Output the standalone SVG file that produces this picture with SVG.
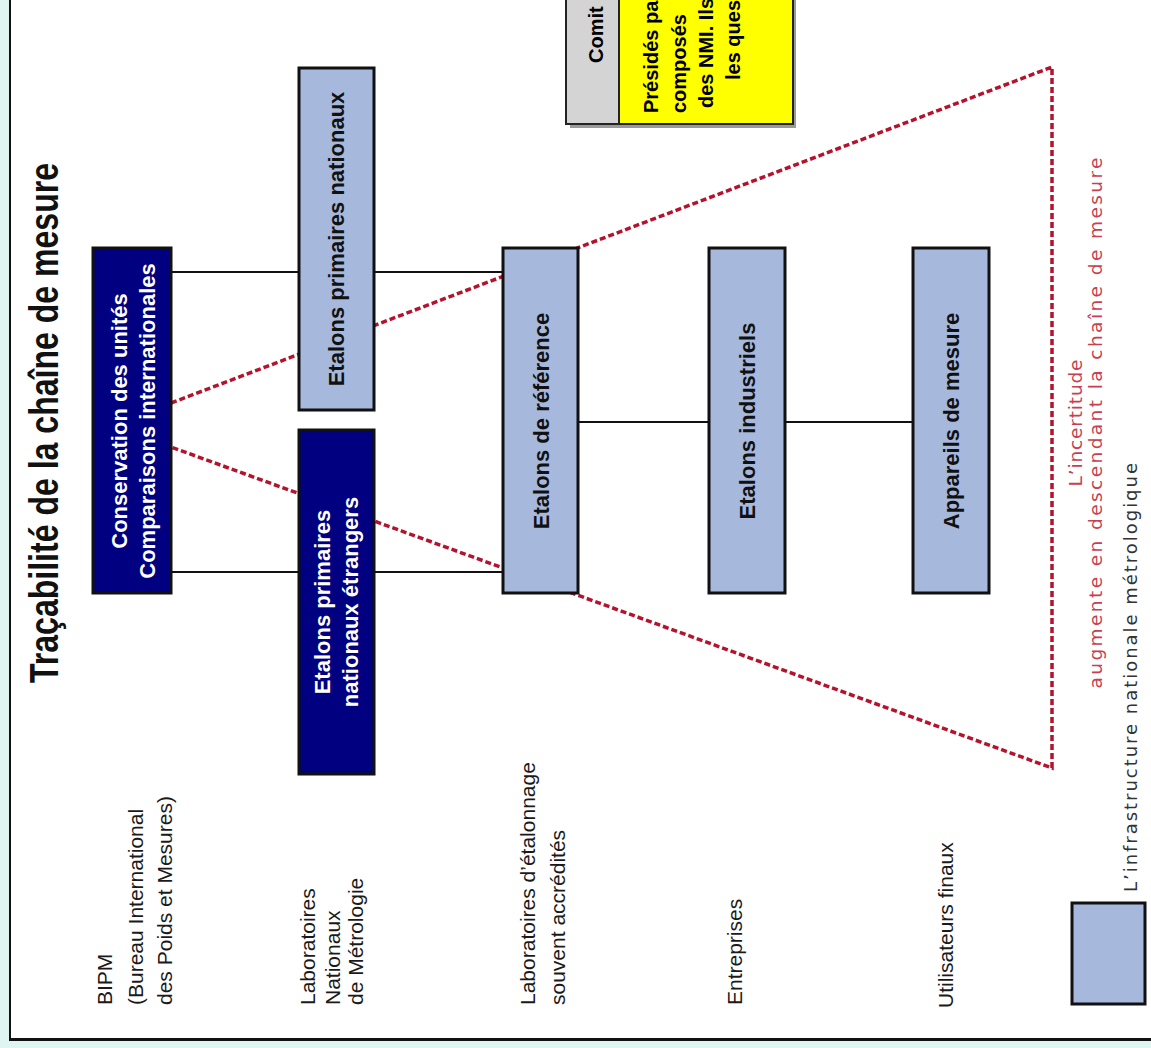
<svg xmlns="http://www.w3.org/2000/svg" width="1151" height="1048" viewBox="0 0 1151 1048">
<style>
.lb{fill:#a6b8dc;stroke:#111;stroke-width:3}
.nv{fill:#000080;stroke:#111;stroke-width:3}
.bt{font-family:"Liberation Sans",Arial,sans-serif;font-weight:bold;font-size:22px;text-anchor:middle}
.wt{fill:#fff}
.kt{fill:#111}
.lab{font-family:"Liberation Sans",Arial,sans-serif;font-size:21px;fill:#1a1a1a}
.conn{stroke:#111;stroke-width:2;fill:none}
.red{stroke:#b4132d;stroke-width:3.5;stroke-dasharray:6 3;fill:none}
.rt{font-family:"DejaVu Sans",Verdana,sans-serif;font-size:18.5px;fill:#c8404f;text-anchor:middle}
.ct{font-family:"Liberation Sans",Arial,sans-serif;font-weight:bold;font-size:20px;fill:#000}
</style>
<rect x="0" y="0" width="1151" height="1048" fill="#dff5f1"/>
<rect x="10" y="0" width="1141" height="1039" fill="#fff"/>
<line x1="10" y1="0" x2="10" y2="1040" stroke="#111" stroke-width="2"/>
<line x1="9" y1="1039.5" x2="1151" y2="1039.5" stroke="#111" stroke-width="3"/>

<text id="title" transform="translate(58,423) rotate(-90)" font-family="Liberation Sans,Arial,sans-serif" font-weight="bold" font-size="40" text-anchor="middle" textLength="520" lengthAdjust="spacingAndGlyphs" fill="#111">Traçabilité de la chaîne de mesure</text>

<g id="connectors">
<line class="conn" x1="171" y1="272" x2="503" y2="272"/>
<line class="conn" x1="171" y1="572" x2="503" y2="572"/>
<line class="conn" x1="578" y1="422" x2="913" y2="422"/>
<polyline class="red" points="171,403 1052,67 1052,768 171,447"/>
</g>

<g id="comite">
<rect x="570" y="-10" width="226" height="138" fill="#9a9a9a"/>
<rect x="566" y="-10" width="53" height="134" fill="#d4d4d4" stroke="#222" stroke-width="2"/>
<rect x="619" y="-10" width="174" height="134" fill="#ffff00" stroke="#222" stroke-width="2"/>
<text class="ct" font-size="22" transform="translate(603,63) rotate(-90)">Comit</text>
<text class="ct" transform="translate(658,113) rotate(-90)">Présidés pa</text>
<text class="ct" transform="translate(686,113) rotate(-90)">composés</text>
<text class="ct" transform="translate(713,108) rotate(-90)">des NMI. Ils</text>
<text class="ct" transform="translate(740,80) rotate(-90)">les ques</text>
</g>

<g id="n-bipm">
<rect class="nv" x="93" y="248" width="78" height="345"/>
<text class="bt wt" transform="translate(127,421) rotate(-90)">Conservation des unités</text>
<text class="bt wt" transform="translate(155,421) rotate(-90)">Comparaisons internationales</text>
</g>
<g id="n-primaires">
<rect class="lb" x="299" y="68" width="75" height="342"/>
<text class="bt kt" transform="translate(344,239) rotate(-90)">Etalons primaires nationaux</text>
</g>
<g id="n-etrangers">
<rect class="nv" x="299" y="430" width="75" height="344"/>
<text class="bt wt" transform="translate(330,602) rotate(-90)">Etalons primaires</text>
<text class="bt wt" transform="translate(358,602) rotate(-90)">nationaux étrangers</text>
</g>
<g id="n-reference">
<rect class="lb" x="503" y="248" width="75" height="345"/>
<text class="bt kt" transform="translate(549,421) rotate(-90)">Etalons de référence</text>
</g>
<g id="n-industriels">
<rect class="lb" x="709" y="248" width="76" height="345"/>
<text class="bt kt" transform="translate(755,421) rotate(-90)">Etalons industriels</text>
</g>
<g id="n-appareils">
<rect class="lb" x="913" y="248" width="76" height="345"/>
<text class="bt kt" transform="translate(959,421) rotate(-90)">Appareils de mesure</text>
</g>

<g id="labels">
<text class="lab" transform="translate(112,1005) rotate(-90)">BIPM</text>
<text class="lab" transform="translate(143,1005) rotate(-90)">(Bureau International</text>
<text class="lab" transform="translate(172,1005) rotate(-90)">des Poids et Mesures)</text>
<text class="lab" transform="translate(315,1005) rotate(-90)">Laboratoires</text>
<text class="lab" transform="translate(340,1005) rotate(-90)">Nationaux</text>
<text class="lab" transform="translate(363,1005) rotate(-90)">de Métrologie</text>
<text class="lab" transform="translate(535,1005) rotate(-90)">Laboratoires d’étalonnage</text>
<text class="lab" transform="translate(565,1005) rotate(-90)">souvent accrédités</text>
<text class="lab" transform="translate(742,1005) rotate(-90)">Entreprises</text>
<text class="lab" transform="translate(953,1008) rotate(-90)">Utilisateurs finaux</text>
</g>

<g id="uncertainty">
<text class="rt" transform="translate(1082,423) rotate(-90)" textLength="127" lengthAdjust="spacing">L’incertitude</text>
<text class="rt" transform="translate(1102,423) rotate(-90)" textLength="531" lengthAdjust="spacing">augmente en descendant la chaîne de mesure</text>
</g>

<g id="legend">
<rect class="lb" x="1072" y="903" width="73" height="101"/>
<text transform="translate(1137,892) rotate(-90)" font-family="DejaVu Sans,Verdana,sans-serif" font-size="18" fill="#333" textLength="429" lengthAdjust="spacing">L’infrastructure nationale métrologique</text>
</g>
</svg>
